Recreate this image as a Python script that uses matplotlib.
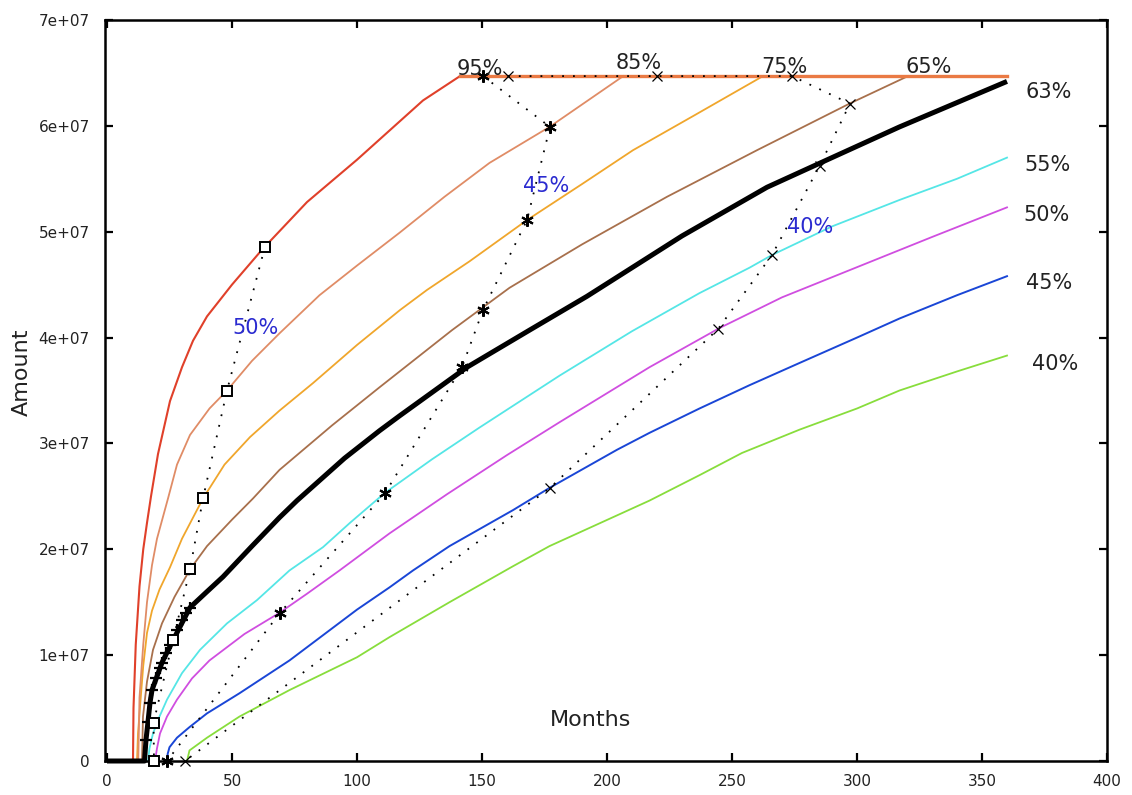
import matplotlib
matplotlib.use("Agg")
import matplotlib.pyplot as plt
import numpy as np

SCALE = 1e7  # amounts below are in units of 1e7

# --- curves (months, amount/1e7) ---
red_x = [10.4, 10.6, 11.5, 13, 14.5, 16, 17.6, 20.4, 25.2, 30, 34.4, 40, 50, 62, 80, 100, 126.4, 141.2]
red_y = [0, 0.5, 1.1, 1.65, 2.0, 2.25, 2.5, 2.9, 3.4, 3.72, 3.97, 4.2, 4.5, 4.83, 5.28, 5.68, 6.24, 6.47]

salmon_x = [12.5, 13, 14.5, 16, 18, 20, 24.4, 28, 33.2, 41, 48, 58, 69, 85, 100, 117, 135, 153, 177, 206.5]
salmon_y = [0, 0.6, 1.1, 1.5, 1.85, 2.1, 2.48, 2.8, 3.08, 3.33, 3.5, 3.78, 4.04, 4.4, 4.68, 4.99, 5.33, 5.65, 5.99, 6.47]

orange_x = [12, 12.4, 13.5, 14.5, 16, 18, 21, 25.2, 30, 38.4, 47, 57.2, 69, 82.4, 100, 117.2, 128, 145, 168, 190, 210.4, 235, 262.4]
orange_y = [0, 0.26, 0.6, 0.9, 1.21, 1.42, 1.62, 1.83, 2.1, 2.48, 2.8, 3.06, 3.31, 3.57, 3.93, 4.26, 4.45, 4.72, 5.11, 5.45, 5.77, 6.1, 6.47]

brown_x = [14, 14.4, 16, 18.4, 22, 27, 33.2, 40, 50, 58.4, 69, 90, 109, 138, 161, 190, 224, 260, 297, 320.4]
brown_y = [0, 0.42, 0.75, 1.05, 1.3, 1.55, 1.81, 2.03, 2.28, 2.48, 2.75, 3.17, 3.53, 4.07, 4.47, 4.88, 5.33, 5.77, 6.21, 6.47]

black_x = [0, 15, 15.6, 16.4, 17.2, 18, 22, 26.4, 33.2, 40, 46.4, 58, 69, 76, 95, 109, 117, 144, 169, 192, 230, 264, 290, 317, 360]
black_y = [0, 0, 0.2, 0.37, 0.55, 0.67, 0.93, 1.14, 1.45, 1.6, 1.74, 2.03, 2.3, 2.46, 2.86, 3.12, 3.26, 3.72, 4.07, 4.39, 4.96, 5.42, 5.7, 5.99, 6.42]
black_plus_x = [15.6, 16.4, 17.2, 18, 19.5, 21, 22, 23.5, 25, 26.4, 28, 30, 31.5, 33.2]
black_plus_y = [0.2, 0.37, 0.55, 0.67, 0.78, 0.88, 0.93, 1.02, 1.1, 1.14, 1.24, 1.33, 1.4, 1.45]

cyan_x = [16.4, 17, 18.4, 21, 24, 30, 37.2, 48, 60, 73, 86.4, 97.2, 111, 130, 149, 181, 210, 237, 257, 266, 290, 317, 340, 360]
cyan_y = [0, 0.12, 0.26, 0.42, 0.58, 0.83, 1.05, 1.3, 1.52, 1.8, 2.02, 2.25, 2.53, 2.85, 3.15, 3.64, 4.06, 4.42, 4.66, 4.78, 5.05, 5.3, 5.5, 5.7]

magenta_x = [19.2, 20, 21.2, 24, 28, 34, 41, 55, 69, 80, 93, 113, 136, 160, 181, 217, 245, 270, 290, 310, 330, 360]
magenta_y = [0, 0.12, 0.26, 0.42, 0.58, 0.78, 0.95, 1.2, 1.4, 1.58, 1.8, 2.15, 2.52, 2.89, 3.2, 3.72, 4.09, 4.38, 4.57, 4.76, 4.95, 5.23]

blue_x = [24, 24.3, 25, 28, 33, 40, 53, 73, 100, 113, 122.4, 137, 162.4, 177, 204, 217, 237, 257, 277, 300, 317, 340, 360]
blue_y = [0, 0.07, 0.13, 0.22, 0.32, 0.45, 0.64, 0.95, 1.43, 1.64, 1.8, 2.03, 2.37, 2.58, 2.94, 3.1, 3.33, 3.55, 3.76, 4.0, 4.18, 4.4, 4.58]

green_x = [32, 33, 40, 53, 73, 100, 113, 137, 162.4, 177, 217, 237, 254, 277, 300, 317, 340, 360]
green_y = [0, 0.1, 0.22, 0.42, 0.67, 0.98, 1.17, 1.5, 1.84, 2.03, 2.46, 2.7, 2.91, 3.13, 3.33, 3.5, 3.68, 3.83]

cap_x = [141.2, 360]
cap_y = [6.47, 6.47]

# --- dotted iso lines through the curves ---
c50_x = [63.2, 48, 38.4, 33.2, 26.4, 18.6, 18.8]
c50_y = [4.86, 3.5, 2.48, 1.81, 1.14, 0.36, 0]
c45_x = [150.4, 177.2, 168, 150.4, 142, 111.2, 69.2, 24]
c45_y = [6.47, 5.99, 5.11, 4.26, 3.72, 2.53, 1.40, 0]
c40_x = [160.4, 220, 274, 297.2, 285, 266, 244.4, 177.2, 31.2]
c40_y = [6.47, 6.47, 6.47, 6.21, 5.62, 4.78, 4.08, 2.58, 0]

curve_labels = ["95%", "85%", "75%", "65%", "63%", "55%", "50%", "45%", "40%"]
curve_label_x = [149.2, 212.6, 271, 328.8, 376.8, 376, 375.8, 377, 379.2]
curve_label_y = [6.54, 6.59, 6.56, 6.56, 6.32, 5.63, 5.16, 4.52, 3.75]
iso_labels = ["50%", "45%", "40%"]
iso_label_x = [59.4, 175.6, 281.4]
iso_label_y = [4.09, 5.43, 5.04]

x_ticks = [0, 50, 100, 150, 200, 250, 300, 350, 400]
y_ticks = [0, 1, 2, 3, 4, 5, 6, 7]
y_tick_labels = ["0", "1e+07", "2e+07", "3e+07", "4e+07", "5e+07", "6e+07", "7e+07"]

plt.rcParams['font.family'] = ['DejaVu Sans']

fig = plt.figure(figsize=(11.32, 7.95), dpi=100)
ax = fig.add_axes([105 / 1132, 34 / 795, 1002 / 1132, 741 / 795])


def sc(v):
    return np.array(v) * SCALE


curves = [
    (green_x, green_y, "#88dd3c", 1.3),
    (blue_x, blue_y, "#1a46d6", 1.4),
    (magenta_x, magenta_y, "#d04ee0", 1.3),
    (cyan_x, cyan_y, "#55e6e6", 1.3),
    (brown_x, brown_y, "#a8704c", 1.3),
    (orange_x, orange_y, "#f0a62c", 1.3),
    (salmon_x, salmon_y, "#e08c66", 1.3),
    (red_x, red_y, "#e0402a", 1.5),
]
for cx, cy, col, lw in curves:
    ax.plot(cx, sc(cy), color=col, lw=lw, zorder=2)

ax.plot(cap_x, sc(cap_y), color="#ea7a44", lw=2.4, zorder=3)

# the 63% curve, drawn heavy
ax.plot(black_x, sc(black_y), color="black", lw=3.6, zorder=4, clip_on=False,
        solid_capstyle="butt")
ax.plot(black_plus_x, sc(black_plus_y), ls="none", marker="+", ms=8, mew=1.6,
        color="black", zorder=5)

# iso lines
dots = (0, (1, 5))
ax.plot(c50_x, sc(c50_y), color="black", ls=dots, lw=1.3, zorder=5)
ax.plot(c50_x, sc(c50_y), ls="none", marker="s", ms=7, mfc="white", mec="black",
        mew=1.4, zorder=6, clip_on=False)
ax.plot(c45_x, sc(c45_y), color="black", ls=dots, lw=1.3, zorder=5)
ax.plot(c45_x, sc(c45_y), ls="none", marker=(6, 2, 0), ms=9, mec="black",
        mew=1.5, zorder=6, clip_on=False)
ax.plot(c40_x, sc(c40_y), color="black", ls=dots, lw=1.3, zorder=5)
ax.plot(c40_x, sc(c40_y), ls="none", marker="x", ms=7, mec="black",
        mew=0.9, zorder=6, clip_on=False)

for t, lx, ly in zip(curve_labels, curve_label_x, curve_label_y):
    ax.text(lx, ly * SCALE, t, fontsize=15, color="#222222", ha="center", va="center", zorder=7)
for t, lx, ly in zip(iso_labels, iso_label_x, iso_label_y):
    ax.text(lx, ly * SCALE, t, fontsize=15, color="#2a2ad0", ha="center", va="center", zorder=7)

ax.text(193.5, 0.39 * SCALE, "Months", fontsize=16, color="#222222", ha="center", va="center")
fig.text(22 / 1132, 1 - 372 / 795, "Amount", fontsize=16, color="#222222", rotation=90,
         ha="center", va="center")

ax.set_xlim(-0.8, 400)
ax.set_ylim(0, 7 * SCALE)
ax.set_xticks(x_ticks)
ax.set_xticklabels([str(v) for v in x_ticks])
ax.set_yticks(sc(y_ticks))
ax.set_yticklabels(y_tick_labels)
ax.tick_params(direction="in", length=6, width=1.6, top=True, right=True,
               labelsize=11, labelcolor="#222222")
ax.tick_params(axis="x", pad=9)
ax.tick_params(axis="y", pad=11)
for s in ax.spines.values():
    s.set_linewidth(1.8)

fig.savefig("out.png", dpi=100)
